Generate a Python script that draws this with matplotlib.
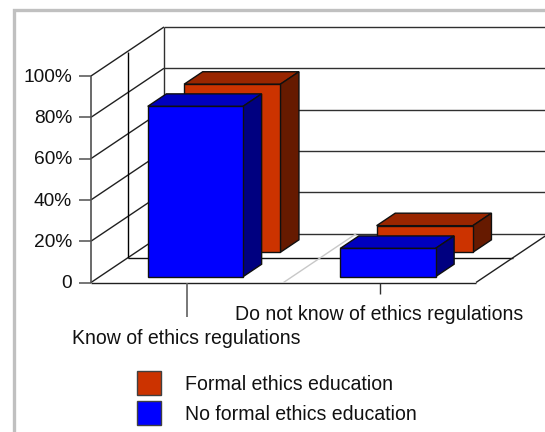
import matplotlib
matplotlib.use("Agg")
import matplotlib.pyplot as plt
from matplotlib.patches import Polygon, Rectangle

plt.rcParams['font.family'] = ['Liberation Sans', 'DejaVu Sans']

categorias = ["Know of ethics regulations", "Do not know of ethics regulations"]
series = ["Formal ethics education", "No formal ethics education"]
formal = [81.4, 12.9]
no_formal = [82.5, 13.7]
ticks = [0, 20, 40, 60, 80, 100]
tick_labels = ["0", "20%", "40%", "60%", "80%", "100%"]

# scale of the oblique projection, in pixels
X0, Y0 = 91.0, 282.5
CAT_W = 192.5
VAL_H = 2.065
DEPTH_X, DEPTH_Y = 73.0, -49.0


def proj(c, v, d):
    # c = category units, v = percent, d = depth from 0 (front) to 1 (back)
    return (X0 + c * CAT_W + d * DEPTH_X, Y0 - v * VAL_H + d * DEPTH_Y)


def linha(ax, p1, p2, color="black", lw=1.0, z=1):
    ax.plot([p1[0], p2[0]], [p1[1], p2[1]], color=color, lw=lw, zorder=z,
            solid_capstyle="butt")


def barra(ax, c0, c1, d0, d1, v, frente, topo, lado, z):
    faces = [
        ([proj(c0, v, d0), proj(c1, v, d0), proj(c1, v, d1), proj(c0, v, d1)], topo),
        ([proj(c1, 0, d0), proj(c1, 0, d1), proj(c1, v, d1), proj(c1, v, d0)], lado),
        ([proj(c0, 0, d0), proj(c1, 0, d0), proj(c1, v, d0), proj(c0, v, d0)], frente),
    ]
    for pts, cor in faces:
        ax.add_patch(Polygon(pts, closed=True, facecolor=cor, edgecolor="#101010",
                             lw=1.0, zorder=z, joinstyle="miter"))


fig = plt.figure(figsize=(5.45, 4.32), dpi=100)
ax = fig.add_axes([0, 0, 1, 1])
ax.set_xlim(0, 545)
ax.set_ylim(432, 0)
ax.axis("off")

# grey frame around the chart area
ax.add_patch(Rectangle((13.5, 9.5), 700, 600, facecolor="white", edgecolor="#c0c0c0", lw=2.4, zorder=0))

# walls and gridlines
n_cat = len(categorias)
for v in ticks:
    linha(ax, proj(0, v, 0), proj(0, v, 1), color="#202020")
    linha(ax, proj(0, v, 1), proj(3, v, 1), color="#303030")
    linha(ax, (79, proj(0, v, 0)[1]), proj(0, v, 0), color="#505050", lw=1.1)
linha(ax, proj(0, 0, 0), proj(0, 100, 0), color="#505050", lw=1.2)
linha(ax, proj(0, 0, 1), proj(0, 100, 1), color="#303030")
linha(ax, proj(0, 0, 0.5), proj(0, 100, 0.5), color="black")

# floor
linha(ax, proj(0, 0, 0), proj(n_cat, 0, 0), color="#202020")
linha(ax, proj(0, 0, 0.5), proj(n_cat, 0, 0.5), color="#101010")
linha(ax, proj(n_cat, 0, 0), proj(n_cat, 0, 1), color="#202020")
linha(ax, proj(1, 0, 0), proj(1, 0, 1), color="#c8c8c8")

# category ticks, the first one is longer because the labels are staggered
linha(ax, proj(0.5, 0, 0), (proj(0.5, 0, 0)[0], 317), color="#606060", lw=1.2)
linha(ax, proj(1.5, 0, 0), (proj(1.5, 0, 0)[0], 294), color="#303030")

# bars, back row first
for i in range(n_cat):
    barra(ax, i + 0.25, i + 0.75, 0.616, 0.871, formal[i], "#cc3300", "#992600", "#661a00", 2 + i)
    barra(ax, i + 0.25, i + 0.745, 0.118, 0.373, no_formal[i], "#0000ff", "#0000bf", "#000080", 2 + i)

# text
for v, t in zip(ticks, tick_labels):
    ax.text(72, proj(0, v, 0)[1] + 1.2, t, ha="right", va="center", fontsize=13.8, color="#111111")
ax.text(72, 338, categorias[0], ha="left", va="center", fontsize=14.05, color="#111111")
ax.text(235, 314, categorias[1], ha="left", va="center", fontsize=14.05, color="#111111")

# legend
ax.add_patch(Rectangle((137, 371), 23.5, 24, facecolor="#cc3300", edgecolor="#404040", lw=1.0, zorder=3))
ax.add_patch(Rectangle((137, 400.5), 23.5, 24, facecolor="#0000ff", edgecolor="#404040", lw=1.0, zorder=3))
ax.text(185, 385, series[0], ha="left", va="center", fontsize=14.05, color="#111111")
ax.text(185, 414, series[1], ha="left", va="center", fontsize=14.05, color="#111111")

fig.savefig("out.png", dpi=100)
